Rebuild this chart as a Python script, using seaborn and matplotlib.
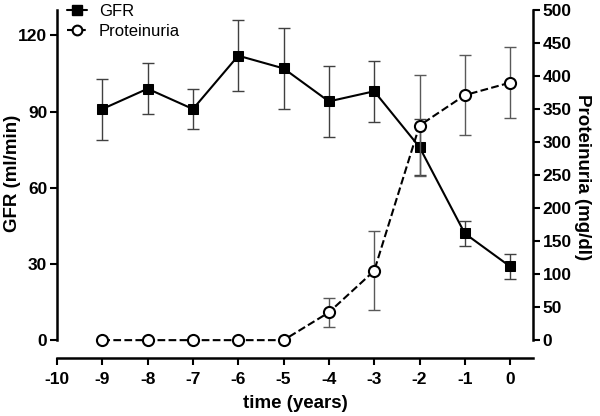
import numpy as np
import pandas as pd
import matplotlib
matplotlib.use("Agg")
import matplotlib.pyplot as plt
import seaborn as sns
from matplotlib.lines import Line2D

# --- data ---
years = [-9, -8, -7, -6, -5, -4, -3, -2, -1, 0]
gfr = [91, 99, 91, 112, 107, 94, 98, 76, 42, 29]
gfr_err = [12, 10, 8, 14, 16, 14, 12, 11, 5, 5]
prot = [0, 0, 0, 0, 0, 42, 105, 325, 371, 390]
prot_err = [0, 0, 0, 0, 0, 22, 60, 77, 61, 54]

df = pd.DataFrame({'time': years, 'GFR': gfr, 'gfr_err': gfr_err,
                   'Proteinuria': prot, 'prot_err': prot_err})

sns.set_theme(style="ticks")
plt.rcParams['font.family'] = ['Liberation Sans', 'DejaVu Sans']
plt.rcParams['axes.unicode_minus'] = False
plt.rcParams.update({'text.color': 'black', 'axes.labelcolor': 'black',
                     'xtick.color': 'black', 'ytick.color': 'black',
                     'axes.edgecolor': 'black'})

fig = plt.figure(figsize=(6, 4.16), dpi=100)
ax = fig.add_axes([0.095, 0.139, 0.793, 0.837])
ax2 = ax.twinx()

# GFR (left axis)
ax.errorbar(df['time'], df['GFR'], yerr=df['gfr_err'], fmt='none',
            ecolor='0.25', elinewidth=1, capsize=4, capthick=1, zorder=2)
sns.lineplot(data=df, x='time', y='GFR', ax=ax, color='black', lw=1.5,
             marker='s', markersize=7, markeredgecolor='black', zorder=3)

# Proteinuria (right axis)
m = df['prot_err'] > 0
ax2.errorbar(df['time'][m], df['Proteinuria'][m], yerr=df['prot_err'][m],
             fmt='none', ecolor='0.35', elinewidth=1, capsize=4, capthick=1, zorder=2)
sns.lineplot(data=df, x='time', y='Proteinuria', ax=ax2, color='black', lw=1.5,
             linestyle='--', marker='o', markersize=8, markerfacecolor='white',
             markeredgecolor='black', markeredgewidth=1.5, zorder=3)

# axes limits / scales
top_left = 130
ax.set_xlim(-10, 0.5)
ax.set_ylim(-7.1, top_left)
ax2.set_ylim(-7.1 * 500 / top_left, 500)

ax.set_xticks(range(-10, 1))
ax.set_yticks([0, 30, 60, 90, 120])
ax2.set_yticks(range(0, 501, 50))

for a in (ax, ax2):
    a.spines['top'].set_visible(False)
    a.tick_params(width=1.5, length=5, labelsize=12.5, pad=2)
    for lab in a.get_xticklabels() + a.get_yticklabels():
        lab.set_fontweight('bold')
ax.tick_params(axis='x', pad=5)
ax.spines['right'].set_visible(False)
ax2.spines['left'].set_visible(False)
ax2.spines['bottom'].set_visible(False)
ax.spines['left'].set_bounds(0, top_left)
ax2.spines['right'].set_bounds(0, 500)
ax.spines['bottom'].set_bounds(-10, 0.5)
for sp in ('left', 'bottom'):
    ax.spines[sp].set_linewidth(1.8)
ax2.spines['right'].set_linewidth(1.8)

ax.set_xlabel('time (years)', fontsize=13.5, fontweight='bold', labelpad=6)
ax.set_ylabel('GFR (ml/min)', fontsize=13.5, fontweight='bold')
ax.yaxis.set_label_coords(-0.075, 0.53)
ax2.set_ylabel('Proteinuria (mg/dl)', fontsize=13.5, fontweight='bold',
               rotation=270, labelpad=14)
ax2.yaxis.label.set_y(0.52)

handles = [
    Line2D([], [], color='black', lw=1.5, marker='s', markersize=7),
    Line2D([], [], color='black', lw=1.5, linestyle='--', marker='o', markersize=7,
           markerfacecolor='white', markeredgewidth=1.5),
]
ax.legend(handles, ['GFR', 'Proteinuria'], loc='upper left',
          bbox_to_anchor=(-0.01, 1.06), frameon=False, fontsize=12,
          handlelength=1.2, handletextpad=0.7, labelspacing=0.3)

fig.savefig('out.png', dpi=100)
